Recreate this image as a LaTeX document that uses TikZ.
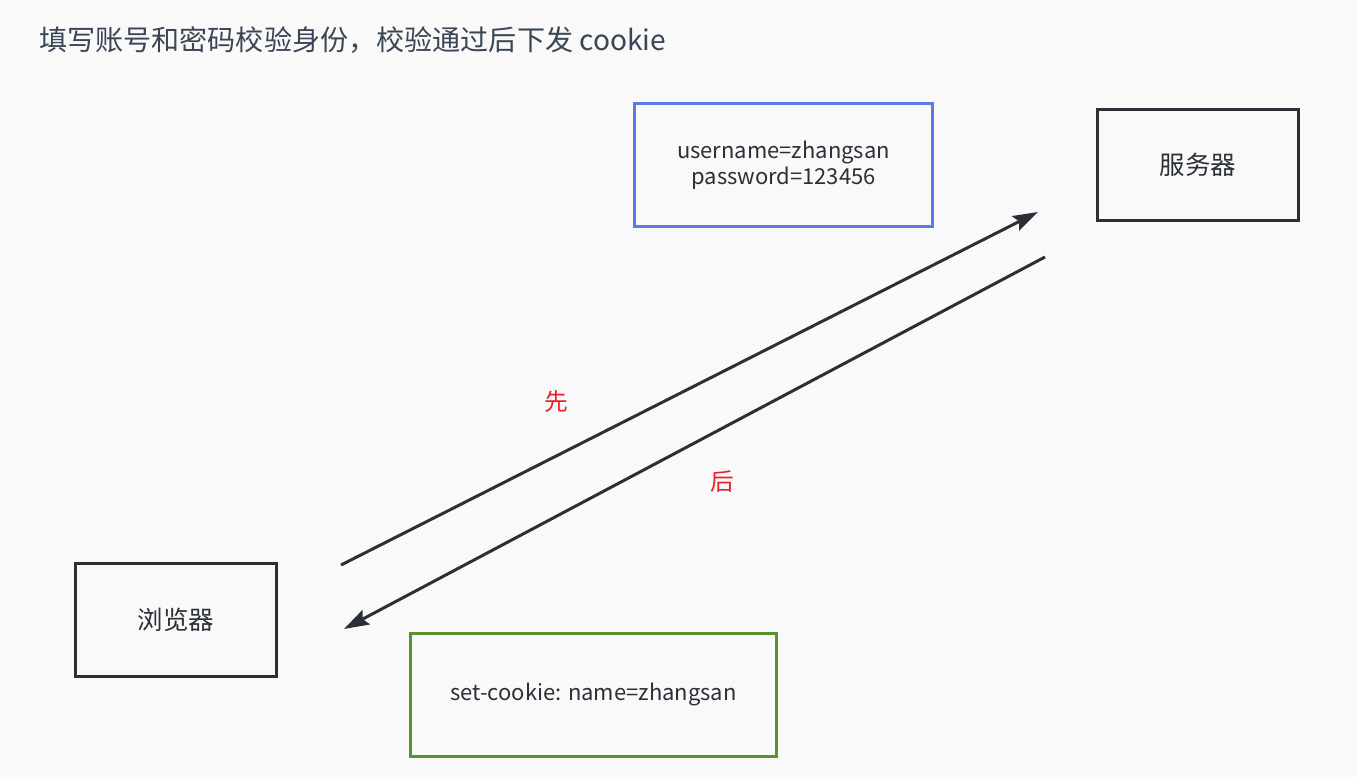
\documentclass[tikz,border=0pt]{standalone}
\usepackage{fontspec}
\setmainfont{Noto Sans CJK SC}
\usepackage{xcolor}
\usetikzlibrary{arrows.meta}
\usetikzlibrary{positioning}
\definecolor{pagebg}{HTML}{F9F9F9}
\definecolor{titlegray}{HTML}{3A4656}
\definecolor{boxdark}{HTML}{2B2F36}
\definecolor{userblue}{HTML}{5B7BE2}
\definecolor{cookiegreen}{HTML}{59922F}
\definecolor{notered}{HTML}{E8202A}

\tikzset{
    box/.style={draw=boxdark, line width=1.7pt, fill=pagebg, text=boxdark,
        font=\fontsize{12.5}{15}\selectfont, align=center, inner sep=0pt},
    endbox/.style={box, font=\fontsize{14.5}{17}\selectfont,
        minimum width=4.04cm},
    msg/.style={-{Stealth[length=0.5cm, width=0.32cm, inset=0.08cm]},
        draw=boxdark, line width=1.7pt},
    note/.style={text=notered, font=\fontsize{13.5}{16}\selectfont}
}

\begin{document}
\begin{tikzpicture}[x=0.02cm, y=-0.02cm]

    % page
    \fill[pagebg] (0,0) rectangle (1357,777);
    \useasboundingbox (0,0) rectangle (1357,777);

    \node[anchor=west, text=titlegray, font=\fontsize{16}{19}\selectfont] (title) at (33,40)
        {填写账号和密码校验身份，校验通过后下发 cookie};

    % the two ends
    \node[endbox, minimum height=2.24cm] (server) at (1198,165) {服务器};
    \node[endbox, minimum height=2.28cm] (browser) at (176,620) {浏览器};

    % what is sent
    \node[box, draw=userblue, minimum width=5.98cm, minimum height=2.48cm] (login) at (783.5,165)
        {username=zhangsan\\password=123456};
    \node[box, draw=cookiegreen, minimum width=7.34cm, minimum height=2.48cm] (cookie) at (593.5,695)
        {set-cookie: name=zhangsan};

    % arrows
    \coordinate (req start) at (341,565);
    \coordinate (req end) at (1038,212);
    \coordinate (resp start) at (1045,257);
    \coordinate (resp end) at (344,629);

    \draw[msg] (req start) -- (req end);
    \draw[msg] (resp start) -- (resp end);

    \node[note] (first) at (556,402) {先};
    \node[note] (after) at (722,482) {后};

\end{tikzpicture}
\end{document}
